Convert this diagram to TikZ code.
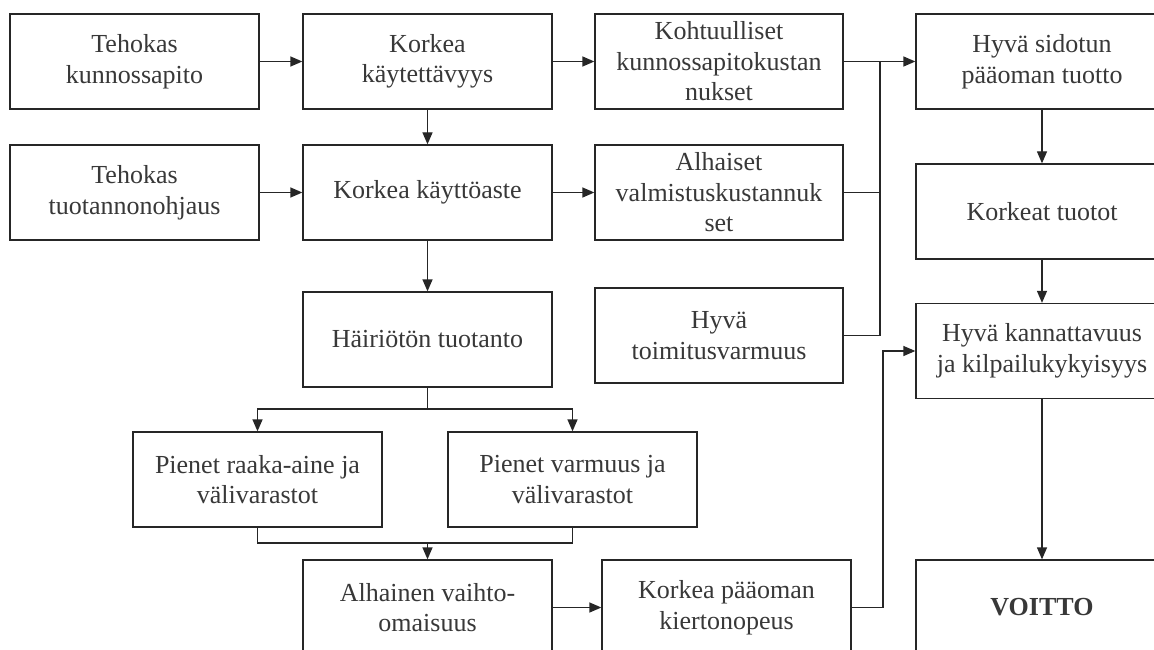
\documentclass[tikz,border=0pt]{standalone}
\usepackage{fontspec}
\setmainfont{Liberation Serif}
\usetikzlibrary{arrows.meta}

\tikzset{
  box/.style={draw=black!85, line width=1.3pt, rectangle, inner sep=0pt,
    minimum height=95pt, align=center, text=black!78,
    font=\fontsize{26}{30.5}\selectfont},
  link/.style={draw=black!85, line width=1.3pt},
  arr/.style={link, -{Triangle[length=12pt,width=10pt]}}
}

\begin{document}
\begin{tikzpicture}[x=1pt, y=-1pt]
\clip (0,0) rectangle (1154,650);
\fill[white] (0,0) rectangle (1154,650);

% first column
\node[box, minimum width=249pt] (tkun) at (134.5,61.5) {Tehokas\\kunnossapito};
\node[box, minimum width=249pt] (ttuo) at (134.5,192.5) {Tehokas\\tuotannonohjaus};

% second column
\node[box, minimum width=249pt] (kkay) at (427.5,61.5) {Korkea\\käytettävyys};
\node[box, minimum width=249pt] (kaste) at (427.5,192.5) {Korkea käyttöaste};
\node[box, minimum width=249pt] (hair) at (427.5,339.5) {Häiriötön tuotanto};
\node[box, minimum width=249pt] (raaka) at (257.5,479.5) {Pienet raaka-aine ja\\välivarastot};
\node[box, minimum width=249pt] (varm) at (572.5,479.5) {Pienet varmuus ja\\välivarastot};
\node[box, minimum width=249pt] (alh) at (427.5,607.5) {Alhainen vaihto-\\omaisuus};

% third column
\node[box, minimum width=248pt] (kohtu) at (719,61.5) {Kohtuulliset\\kunnossapitokustan\\nukset};
\node[box, minimum width=248pt] (valm) at (719,192.5) {Alhaiset\\valmistuskustannuk\\set};
\node[box, minimum width=248pt] (toim) at (719,335.5) {Hyvä\\toimitusvarmuus};
\node[box, minimum width=249pt] (kierto) at (726.5,607.5) {Korkea pääoman\\kiertonopeus};

% fourth column
\node[box, minimum width=252pt] (sidot) at (1042,61.5) {Hyvä sidotun\\pääoman tuotto};
\node[box, minimum width=252pt] (tuotot) at (1042,211.5) {Korkeat tuotot};
\node[box, minimum width=252pt] (kann) at (1042,351) {Hyvä kannattavuus\\ja kilpailukykyisyys};
\node[box, minimum width=252pt, font=\fontsize{26}{30.5}\selectfont\bfseries] (voitto) at (1042,607.5) {VOITTO};

% junction points
\coordinate (j1) at (880,61.5);
\coordinate (j2) at (883,351);
\coordinate (s1) at (427.5,409);
\coordinate (m1) at (427.5,543);

% connectors
\draw[arr] (tkun.east) -- (kkay.west);
\draw[arr] (ttuo.east) -- (kaste.west);
\draw[arr] (kkay.east) -- (kohtu.west);
\draw[arr] (kaste.east) -- (valm.west);
\draw[arr] (kkay.south) -- (kaste.north);
\draw[arr] (kaste.south) -- (hair.north);

\draw[link] (hair.south) -- (s1);
\draw[arr] (s1) -| (raaka.north);
\draw[arr] (s1) -| (varm.north);

\draw[link] (raaka.south) |- (m1);
\draw[link] (varm.south) |- (m1);
\draw[arr] (m1) -- (alh.north);

\draw[arr] (alh.east) -- (kierto.west);

\draw[arr] (kohtu.east) -- (sidot.west);
\draw[link] (valm.east) -| (j1);
\draw[link] (toim.east) -| (j1);

\draw[arr] (kierto.east) -| (j2) -- (kann.west);

\draw[arr] (sidot.south) -- (tuotot.north);
\draw[arr] (tuotot.south) -- (kann.north);
\draw[arr] (kann.south) -- (voitto.north);
\end{tikzpicture}
\end{document}
